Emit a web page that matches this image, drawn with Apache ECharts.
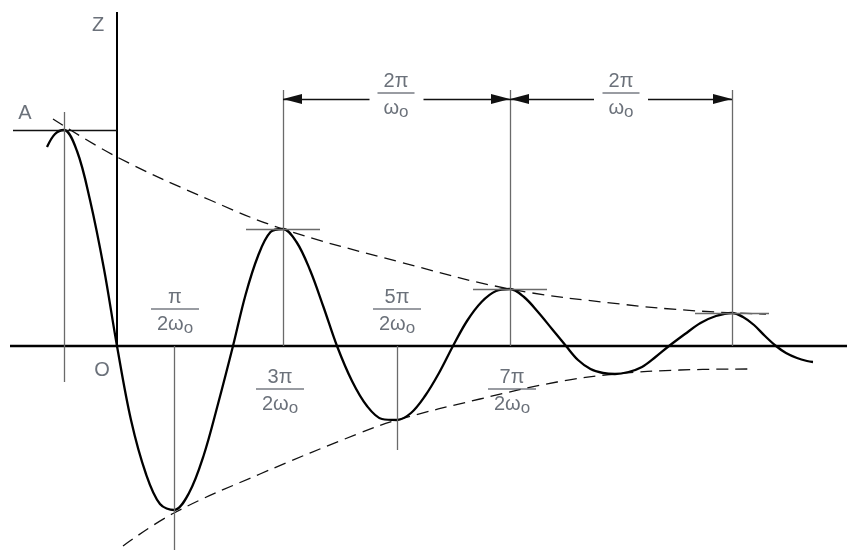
<!DOCTYPE html>
<html><head><meta charset="utf-8">
<script src="https://cdn.jsdelivr.net/npm/echarts@6/dist/echarts.min.js"></script>
<style>html,body{margin:0;padding:0;background:#fff}#c{width:848px;height:553px}</style>
</head><body><div id="c"></div>
<script>
// Damped oscillation z(t) (t: time, z: displacement)
const curveT = [-70,-62,-53,-40,-27,-13,0,14,29,43,57,72,86.5,101,116,128.5,141,153.5,166,179.5,193,206.5,220,235,250,265,280,294,308,322,336,350,364.5,379,393,407,421,435,449,461,473.5,486,498,511.5,525,538.5,552,568,583.5,599,615,626,637,648,659,669,680,690,696];
const curveZ = [199,212,216,195,146,77,0,-74,-128,-158,-164,-147,-110,-58,0,51,90,114,117,104,76,39,0,-35,-60,-73,-74,-67,-50,-27,0,25,44,55,57,49,34,17,0,-14,-23,-27,-28,-26,-21,-11,0,12,23,30,33,29,21,10,0,-7,-12,-15,-16];
// Envelopes
const upperT = [-64,0,93,166,283,393,503,581,649];
const upperZ = [227,189,146,117,84,57,42,35,32];
const lowerT = [6,57,143,243,280,363,440,498,563,633];
const lowerZ = [-200,-167,-128,-87,-74,-53,-36,-28,-24,-23];
// Extremes
const peakT = [-53,166,393,615];
const peakZ = [216,117,57,33];
const troughT = [57,280,498];
const troughZ = [-164,-74,-28];
// Axes extents
const tAxis = [-107, 730];
const zAxisTop = 334;
// Labels
const fracNum = ['π','3π','5π','7π','2π','2π'];
const fracDen = ['2ω','2ω','2ω','2ω','ω','ω'];
const fracT = [58,163,280,395,279,504];
const fracZ = [37,-43,37,-43,253,253];
const letterText = ['A','O','Z'];
const letterT = [-92,-15,-19];
const letterZ = [233,-24,321];

const FONT = 'Liberation Sans, Arial, sans-serif';
const TXT = '#464e59';
const GREY = '#6a6a6a';
const thin = {color: GREY, width: 1.3, type: 'solid'};
const blackThin = {color: '#111', width: 1.3, type: 'solid'};
const axisStyle = {color: '#000', width: 2.3, type: 'solid'};

const ml = [];
function seg(t1, z1, t2, z2, style, s1, s2) {
  const a = {coord: [t1, z1], lineStyle: style, symbol: 'none'};
  const b = {coord: [t2, z2], symbol: 'none'};
  if (s1) { a.symbol = 'triangle'; a.symbolSize = [10, 19]; a.symbolOffset = [0, '50%']; }
  if (s2) { b.symbol = 'triangle'; b.symbolSize = [10, 19]; b.symbolOffset = [0, '50%']; }
  ml.push([a, b]);
}
// axes
seg(tAxis[0], 0, tAxis[1], 0, axisStyle);
seg(0, 0, 0, zAxisTop, {color: '#000', width: 2, type: 'solid'});
// Peak A reference lines
seg(tAxis[0] + 3, peakZ[0], 0, peakZ[0], blackThin);
seg(peakT[0], peakZ[0] + 18, peakT[0], -36, thin);
// other peaks: short horizontal ticks and vertical lines
for (let i = 1; i < peakT.length; i++) {
  seg(peakT[i] - 37, peakZ[i], peakT[i] + 37, peakZ[i], thin);
  seg(peakT[i], 0, peakT[i], 256, thin);
}
// trough verticals
const troughBottom = [-204, -104];
for (let i = 0; i < troughBottom.length; i++) seg(troughT[i], 0, troughT[i], troughBottom[i], thin);
// period dimension arrows
const dimZ = 247;
for (let i = 1; i < peakT.length - 1; i++) {
  const a = peakT[i], b = peakT[i + 1], m = (a + b) / 2;
  seg(a, dimZ, m - 27, dimZ, blackThin, true, false);
  seg(m + 27, dimZ, b, dimZ, blackThin, false, true);
}

function fracLabel(num, den) {
  const bar = den.length > 1 ? 'b1' : 'b2';
  return '{n|' + num + '}\n{' + bar + '| }\n{d|' + den + '}{s|o}';
}

const chart = echarts.init(document.getElementById('c'), null, {renderer: 'canvas'});
chart.setOption({
  animation: false,
  backgroundColor: '#fff',
  grid: {left: 0, right: 0, top: 0, bottom: 0},
  xAxis: {type: 'value', min: -117, max: 731, axisLine: {show: false}, axisTick: {show: false}, axisLabel: {show: false}, splitLine: {show: false}},
  yAxis: {type: 'value', min: -207, max: 346, axisLine: {show: false}, axisTick: {show: false}, axisLabel: {show: false}, splitLine: {show: false}},
  series: [
    {type: 'line', data: [], silent: true, z: 1,
      markLine: {silent: true, symbol: ['none', 'none'], label: {show: false}, emphasis: {disabled: true},
        itemStyle: {color: '#111'}, lineStyle: thin, data: ml, animation: false}},
    {type: 'line', data: upperT.map((t, i) => [t, upperZ[i]]), smooth: 0.4, showSymbol: false, silent: true, z: 2,
      lineStyle: {color: '#111', width: 1.3, type: [12, 7]}},
    {type: 'line', data: lowerT.map((t, i) => [t, lowerZ[i]]), smooth: 0.4, showSymbol: false, silent: true, z: 2,
      lineStyle: {color: '#111', width: 1.3, type: [12, 7]}},
    {type: 'line', data: curveT.map((t, i) => [t, curveZ[i]]), smooth: 0.35, showSymbol: false, silent: true, z: 3,
      lineStyle: {color: '#000', width: 2.3}},
    {type: 'scatter', symbolSize: 1, itemStyle: {color: 'rgba(0,0,0,0)'}, silent: true, z: 4,
      data: fracT.map((t, i) => ({value: [t, fracZ[i]], num: fracNum[i], den: fracDen[i]})),
      label: {show: true, position: 'inside', offset: [0, 3], color: TXT, textBorderWidth: 0,
        formatter: p => fracLabel(p.data.num, p.data.den),
        rich: {
          n: {fontFamily: FONT, fontSize: 20, lineHeight: 20, color: TXT, align: 'center'},
          b1: {width: 48, height: 1.5, lineHeight: 4, fontSize: 2, backgroundColor: '#555b64', align: 'center'},
          b2: {width: 37, height: 1.5, lineHeight: 4, fontSize: 2, backgroundColor: '#555b64', align: 'center'},
          d: {fontFamily: FONT, fontSize: 20, lineHeight: 26, color: TXT},
          s: {fontFamily: FONT, fontSize: 17, lineHeight: 18, color: TXT, verticalAlign: 'bottom'}
        }}},
    {type: 'scatter', symbolSize: 1, itemStyle: {color: 'rgba(0,0,0,0)'}, silent: true, z: 4,
      data: letterT.map((t, i) => ({value: [t, letterZ[i]], txt: letterText[i]})),
      label: {show: true, position: 'inside', color: TXT, textBorderWidth: 0, fontFamily: FONT, fontSize: 20,
        formatter: p => p.data.txt}}
  ]
});
</script></body></html>
